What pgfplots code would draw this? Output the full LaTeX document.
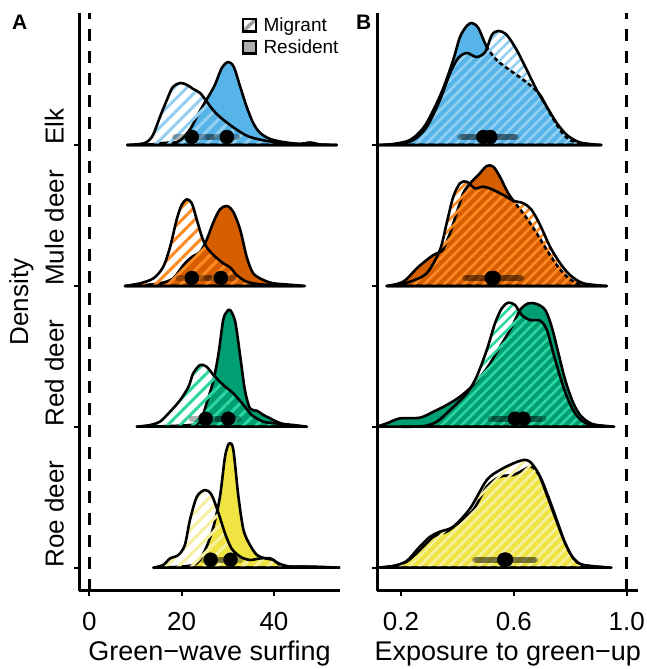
\documentclass[border=0pt]{standalone}
\usepackage{pgfplots}
\pgfplotsset{compat=1.18}
\usepackage{pgfplotstable}
\usetikzlibrary{patterns.meta}
\usepackage{fontspec}
\setmainfont{Liberation Sans}

\definecolor{cElk}{HTML}{56B4E9}
\definecolor{sElk}{HTML}{92CFF0}
\definecolor{cMule}{HTML}{D55E00}
\definecolor{sMule}{HTML}{FF8A24}
\definecolor{cRed}{HTML}{009E73}
\definecolor{sRed}{HTML}{2BD6A0}
\definecolor{cRoe}{HTML}{F0E442}
\definecolor{sRoe}{HTML}{F6F0A0}

% ---------- Panel A: green-wave surfing ----------
\pgfplotstableread{
x h
8.2 0
11.0 1
12.5 3
13.8 10
15.3 28
16.8 45
18.1 58
19.7 62
21.2 60
22.5 56
24.0 52
25.5 43
26.8 35
28.3 28
30.5 20
32.7 13
34.8 8
38.5 4
43.5 1.5
53.6 0
}\EAm
\pgfplotstableread{
x h
8.2 0
13.2 0.5
16.0 2
19.0 3
20.5 8
22.0 17
23.5 30
24.7 40
26.0 50
27.2 60
28.7 77
30.1 83
31.3 78
32.7 58
34.1 38
35.5 22
37.0 12
39.2 6
42.0 3
45.6 1
47.8 2.5
50.0 0.5
53.6 0
}\EAr
\pgfplotstableread{
x h
7.7 0
11.0 2.7
13.9 7.7
16.0 19
17.5 39
18.9 66
20.0 81
21.1 86.7
22.2 82.7
23.3 66
24.4 49
25.4 39
26.9 31
29.0 22.7
30.5 18.7
31.9 11
34.1 4.3
37.0 1.7
40.6 1
46.3 0
}\MAm
\pgfplotstableread{
x h
7.7 0
10.3 0.3
15.3 2.7
18.2 7.7
20.4 21
22.2 29
24.0 34
25.4 46
26.9 64
28.3 76.7
29.8 80
31.2 74
32.7 56
34.1 29
35.5 12.7
37.7 6
39.9 2.7
44.2 1
46.7 0
}\MAr
\pgfplotstableread{
x h
10.3 0
13.2 1.7
15.3 5
17.5 15
19.7 26.7
21.5 40
22.5 53.3
24.0 61.7
25.4 60
26.9 51.7
29.0 41.7
31.2 33.3
33.4 21.7
35.2 11.7
37.7 5
40.6 3.3
44.2 1.7
47.1 0
}\RAm
\pgfplotstableread{
x h
10.3 0
15.3 0.3
21.8 1.7
24.0 5
25.4 23.3
26.9 46.7
28.0 73.3
29.0 106.7
29.8 115
30.5 116.7
31.6 105
32.7 70
33.7 36.7
34.8 18.3
36.3 16
37.7 11.7
39.2 8.3
40.6 5
42.8 1.7
47.1 0
}\RAr
\pgfplotstableread{
x h
13.9 0
16.0 2.7
17.5 9.3
19.3 12.7
20.7 22.7
21.8 47.7
23.3 71
25.1 77.7
26.5 72.7
28.0 54.3
29.4 34.3
30.8 19.3
32.7 11
34.8 7.7
37.0 9.3
39.2 9.3
41.0 4.3
43.5 1
46.4 1
54.3 0
}\OAm
\pgfplotstableread{
x h
13.9 0
14.6 0.1
19.7 1
23.3 4.3
25.4 21
26.9 41
28.3 71
29.4 111
30.3 124.3
31.2 117.7
32.3 71
33.4 37.7
34.8 22.7
36.3 12.7
38.1 9.3
39.9 7.7
41.3 2.7
43.5 1
48.5 1
54.3 0
}\OAr

% ---------- Panel B: exposure to green-up ----------
\pgfplotstableread{
x h
0.120 0
0.185 1
0.244 5
0.291 18
0.338 45
0.374 72
0.403 87
0.433 92
0.468 88
0.498 93
0.522 110
0.545 114
0.575 110
0.610 95
0.646 75
0.681 55
0.717 38
0.752 22
0.788 10
0.835 2.5
0.910 0
}\EBm
\pgfplotstableread{
x h
0.120 0
0.173 1
0.232 5
0.279 17
0.315 35
0.350 57
0.385 85
0.409 108
0.433 119
0.451 122
0.474 117
0.504 98
0.539 85
0.575 77
0.610 70
0.657 60
0.693 50
0.728 32
0.764 15
0.799 5
0.858 0.7
0.910 0
}\EBr
\pgfplotstableread{
x h
0.149 0
0.173 0.5
0.232 4.3
0.291 12.7
0.338 36
0.362 63
0.385 89
0.409 102.7
0.433 104.3
0.462 97.7
0.492 99.3
0.522 96.7
0.563 91
0.598 85.3
0.634 82.7
0.663 76
0.693 61
0.728 39.3
0.764 22.7
0.799 11
0.846 2.7
0.929 0
}\MBm
\pgfplotstableread{
x h
0.149 0
0.208 4.3
0.256 17.7
0.291 26
0.315 31
0.338 34
0.350 37
0.374 53
0.397 73
0.421 93
0.445 102.7
0.474 111
0.504 120
0.527 119.3
0.551 109
0.580 92.7
0.610 81
0.646 67.7
0.681 52.7
0.717 36
0.752 21
0.788 9.3
0.835 1.7
0.929 0
}\MBr
\pgfplotstableread{
x h
0.200 0
0.279 0.5
0.327 5
0.374 16.7
0.433 33.3
0.468 50
0.504 76.7
0.533 103.3
0.557 118.3
0.580 124
0.604 121.7
0.628 111.7
0.657 106.7
0.693 106
0.717 96.7
0.740 73.3
0.764 50
0.788 30
0.817 13.3
0.858 3.3
0.955 0
}\RBm
\pgfplotstableread{
x h
0.114 0
0.149 3.3
0.196 8.3
0.267 9
0.315 15
0.362 21.7
0.409 30
0.456 41.7
0.504 58.3
0.551 80
0.593 100
0.622 116.7
0.651 123.3
0.681 122.7
0.711 116.7
0.734 100
0.758 73.3
0.782 46.7
0.811 23.3
0.840 10
0.882 2.3
0.955 0
}\RBr
\pgfplotstableread{
x h
0.114 0
0.173 1.7
0.220 6.7
0.261 19.3
0.303 31
0.338 36
0.385 41
0.445 59.3
0.504 87.7
0.551 97.7
0.598 104.3
0.634 107.7
0.657 106
0.687 94.3
0.717 72.7
0.752 46
0.782 24.3
0.811 9.3
0.846 2.7
0.945 0
}\OBm
\pgfplotstableread{
x h
0.114 0
0.173 1.7
0.220 6
0.267 17.7
0.315 31
0.362 36
0.409 46
0.456 57.7
0.504 81
0.551 91
0.598 92.7
0.634 97.7
0.663 101
0.693 91
0.722 71
0.752 47.7
0.782 24.3
0.811 9.3
0.846 2.7
0.945 0
}\OBr

\pgfplotsset{
  ridge/.style={line width=2.6pt, line join=round, smooth, tension=0.5, draw=black},
  res/.style={ridge, fill=#1},
  migA/.style={ridge, pattern={Lines[angle=45,distance=9pt,line width=3pt]}, pattern color=#1},
  migB/.style={ridge, pattern={Lines[angle=45,distance=7pt,line width=2.6pt]}, pattern color=#1},
  ivl/.style={black, opacity=0.3, line width=6pt, line cap=round, forget plot},
  dot/.style={only marks, mark=*, mark size=7pt, black, forget plot},
  vdash/.style={black, line width=3.5pt, dash pattern=on 12pt off 10pt, forget plot},
  panel/.style={
    scale only axis, width=261pt, height=577.7pt,
    ymin=-23, ymax=554.7,
    axis x line*=bottom, axis y line*=left,
    axis line style={line width=3pt, black, -},
    tick align=outside,
    ytick={0,141,281.7,422.7}, yticklabels={,,,},
    tick style={line width=2pt, black},
    major tick length=5pt,
    xticklabel style={font=\fontsize{26}{31}\selectfont, anchor=base, yshift=-35pt},
    xlabel style={font=\fontsize{27}{32}\selectfont, at={(axis description cs:0.5,0)}, anchor=base, yshift=-69.3pt},
  },
}

\begin{document}
\begin{tikzpicture}
\path[use as bounding box] (0,0) rectangle (646pt,669pt);

% ================= Panel A =================
\begin{axis}[panel, at={(79pt,78.3pt)}, anchor=south west,
  xmin=-2.23, xmax=54.3, xtick={0,20,40}, xticklabels={0,20,40},
  xlabel={Green−wave surfing},
  legend style={at={(axis description cs:0.62,0.9926)}, anchor=north west, draw=none, fill=none,
     inner sep=0pt, font=\fontsize{19}{22}\selectfont, row sep=6.3pt,
     nodes={inner sep=0pt}, cells={anchor=base west},
     /tikz/every odd column/.append style={column sep=6pt}}]
\addlegendimage{legend image code/.code={
   \fill[white] (0pt,0pt) rectangle (13pt,12.4pt);
   \draw[line width=3.5pt, gray!75] (0pt,0pt) -- (13pt,12.4pt);
   \draw[line width=2.4pt, black] (0pt,0pt) rectangle (13pt,12.4pt);}}
\addlegendimage{legend image code/.code={
   \draw[line width=2.4pt, black, fill=gray!65] (0pt,0pt) rectangle (13pt,12.4pt);}}
\legend{Migrant,Resident}

\addplot[vdash] coordinates {(0,-23) (0,554.7)};

\addplot[res=cElk, forget plot] table[x=x, y expr=\thisrow{h}+422.7] {\EAr} -- cycle;
\addplot[migA=sElk, forget plot] table[x=x, y expr=\thisrow{h}+422.7] {\EAm} -- cycle;
\addplot[res=cMule, forget plot] table[x=x, y expr=\thisrow{h}+281.7] {\MAr} -- cycle;
\addplot[migA=sMule, forget plot] table[x=x, y expr=\thisrow{h}+281.7] {\MAm} -- cycle;
\addplot[res=cRed, forget plot] table[x=x, y expr=\thisrow{h}+141] {\RAr} -- cycle;
\addplot[migA=sRed, forget plot] table[x=x, y expr=\thisrow{h}+141] {\RAm} -- cycle;
\addplot[res=cRoe, forget plot] table[x=x, y expr=\thisrow{h}+0] {\OAr} -- cycle;
\addplot[migA=sRoe, forget plot] table[x=x, y expr=\thisrow{h}+0] {\OAm} -- cycle;

% intervals (migrant, resident)
\addplot[ivl] coordinates {(18.6,430.7) (26.6,430.7)};
\addplot[ivl] coordinates {(25.7,430.7) (32.0,430.7)};
\addplot[ivl] coordinates {(19.3,289.7) (26.0,289.7)};
\addplot[ivl] coordinates {(25.5,289.7) (31.2,289.7)};
\addplot[ivl] coordinates {(22.2,149) (28.6,149)};
\addplot[ivl] coordinates {(27.8,149) (32.3,149)};
\addplot[ivl] coordinates {(24.7,8) (29.0,8)};
\addplot[ivl] coordinates {(28.5,8) (32.7,8)};
% medians
\addplot[dot] coordinates {(22.2,430.7) (29.8,430.7) (22.2,289.7) (28.5,289.7)
   (25.2,149) (30.1,149) (26.3,8) (30.6,8)};
\end{axis}

% ================= Panel B =================
\begin{axis}[panel, at={(377.3pt,78.3pt)}, anchor=south west,
  xmin=0.116, xmax=1.041, xtick={0.2,0.6,1.0}, xticklabels={0.2,0.6,1.0},
  xlabel={Exposure to green−up}]
\addplot[vdash] coordinates {(1,-23) (1,554.7)};

\addplot[res=cElk, forget plot] table[x=x, y expr=\thisrow{h}+422.7] {\EBr} -- cycle;
\addplot[migB=sElk, forget plot] table[x=x, y expr=\thisrow{h}+422.7] {\EBm} -- cycle;
\addplot[res=cMule, forget plot] table[x=x, y expr=\thisrow{h}+281.7] {\MBr} -- cycle;
\addplot[migB=sMule, forget plot] table[x=x, y expr=\thisrow{h}+281.7] {\MBm} -- cycle;
\addplot[res=cRed, forget plot] table[x=x, y expr=\thisrow{h}+141] {\RBr} -- cycle;
\addplot[migB=sRed, forget plot] table[x=x, y expr=\thisrow{h}+141] {\RBm} -- cycle;
\addplot[res=cRoe, forget plot] table[x=x, y expr=\thisrow{h}+0] {\OBr} -- cycle;
\addplot[migB=sRoe, forget plot] table[x=x, y expr=\thisrow{h}+0] {\OBm} -- cycle;

\addplot[ivl] coordinates {(0.409,430.7) (0.600,430.7)};
\addplot[ivl] coordinates {(0.420,430.7) (0.608,430.7)};
\addplot[ivl] coordinates {(0.427,289.7) (0.620,289.7)};
\addplot[ivl] coordinates {(0.435,289.7) (0.628,289.7)};
\addplot[ivl] coordinates {(0.516,149) (0.690,149)};
\addplot[ivl] coordinates {(0.530,149) (0.705,149)};
\addplot[ivl] coordinates {(0.462,8) (0.670,8)};
\addplot[ivl] coordinates {(0.470,8) (0.675,8)};
\addplot[dot] coordinates {(0.492,430.7) (0.516,430.7) (0.522,289.7) (0.528,289.7)
   (0.604,149) (0.634,149) (0.566,8) (0.572,8)};
\end{axis}

% ================= Text =================
\node[anchor=base west, inner sep=0pt, font=\bfseries\fontsize{21}{25}\selectfont] at (12pt,639pt) {A};
\node[anchor=base west, inner sep=0pt, font=\bfseries\fontsize{21}{25}\selectfont] at (356pt,639pt) {B};
\node[rotate=90, anchor=base, inner sep=0pt, font=\fontsize{26}{31}\selectfont] at (28pt,367pt) {Density};
\node[rotate=90, anchor=base west, inner sep=0pt, font=\fontsize{26}{31}\selectfont] at (63.5pt,524pt) {Elk};
\node[rotate=90, anchor=base west, inner sep=0pt, font=\fontsize{26}{31}\selectfont] at (63.5pt,383pt) {Mule deer};
\node[rotate=90, anchor=base west, inner sep=0pt, font=\fontsize{26}{31}\selectfont] at (63.5pt,242.3pt) {Red deer};
\node[rotate=90, anchor=base west, inner sep=0pt, font=\fontsize{26}{31}\selectfont] at (63.5pt,101.3pt) {Roe deer};
\end{tikzpicture}
\end{document}
